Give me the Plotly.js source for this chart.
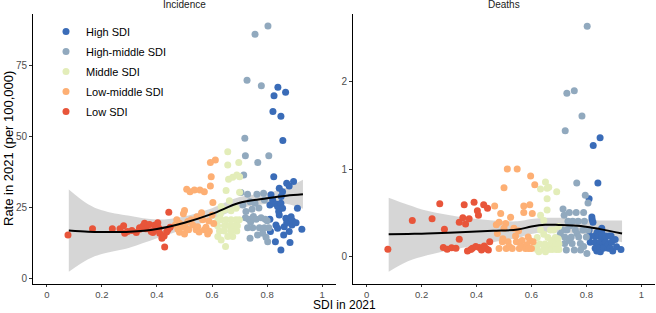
<!DOCTYPE html>
<html>
<head>
<meta charset="utf-8">
<script src="https://cdn.plot.ly/plotly-3.0.1.min.js"></script>
<style>html,body{margin:0;padding:0;background:#fff;}#chart{width:656px;height:313px;}</style>
</head>
<body>
<div id="chart"></div>
<script>
// ---- Data ----
const groupNames = ["High SDI", "High-middle SDI", "Middle SDI", "Low-middle SDI", "Low SDI"];
const groupColors = ["#3A6CB8", "#91A9BE", "#E3EDB9", "#FDAF74", "#E8553A"];

const sdiLow = [0.077,0.166,0.238,0.266,0.279,0.283,0.293,0.309,0.325,0.337,0.337,0.350,0.355,0.360,0.367,0.373,0.379,0.385,0.391,0.397,0.403,0.407,0.410,0.418,0.426,0.428,0.435,0.440,0.443,0.448];
const incLow = [15.5,17.7,17.7,17.7,18.7,16.1,16.7,17.0,16.3,17.5,18.0,18.7,19.6,17.7,19.0,19.2,16.7,16.3,18.9,17.3,19.8,17.8,16.1,14.3,15.1,11.2,16.5,17.3,23.5,18.2];
const dthLow = [0.08,0.41,0.43,0.60,0.10,0.31,0.08,0.095,0.09,0.195,0.39,0.44,0.59,0.37,0.06,0.43,0.077,0.09,0.62,0.11,0.52,0.47,0.10,0.07,0.59,0.115,0.088,0.55,0.069,0.165];

const sdiLowMid = [0.466,0.472,0.476,0.482,0.482,0.488,0.494,0.496,0.500,0.500,0.506,0.508,0.512,0.515,0.520,0.524,0.530,0.536,0.542,0.545,0.548,0.553,0.556,0.562,0.566,0.572,0.572,0.578,0.584,0.588,0.590,0.594,0.594,0.597,0.600,0.603,0.606,0.612];
const incLowMid = [19.0,20.8,17.5,19.6,16.4,18.2,19.0,22.9,24.1,15.8,17.8,31.6,20.2,17.3,30.7,20.8,19.0,31.3,17.3,21.9,18.4,16.5,31.3,23.3,20.8,30.7,17.3,18.2,15.8,20.4,16.8,32.7,41.0,36.0,22.5,26.9,19.5,41.9];
const dthLowMid = [0.575,0.36,0.26,0.088,0.39,0.49,0.165,0.2,0.32,0.785,0.375,0.088,1.0,0.165,0.11,0.445,0.088,0.32,0.23,0.165,1.0,0.29,0.088,0.12,0.18,0.575,0.50,0.088,0.13,0.22,0.088,0.18,0.59,0.92,0.088,0.49,0.165,0.82];

const sdiMid = [0.620,0.621,0.621,0.627,0.630,0.633,0.633,0.633,0.645,0.645,0.645,0.649,0.651,0.651,0.657,0.657,0.657,0.660,0.663,0.663,0.669,0.669,0.669,0.675,0.675,0.681,0.687,0.687,0.690,0.690,0.692,0.697,0.699,0.700,0.700];
const incMid = [18.7,20.8,14.9,16.9,22.8,25.5,20.8,13.7,24.3,18.7,16.9,11.4,31.1,20.8,44.8,40.1,14.9,35.1,27.5,18.7,24.0,20.8,16.9,35.8,14.9,18.7,24.9,20.8,36.6,16.9,18.7,41.0,20.8,36.0,30.5];
const dthMid = [0.12,0.215,0.075,0.05,0.14,0.47,0.30,0.77,0.41,0.075,0.25,0.14,0.85,0.05,0.78,0.66,0.53,0.215,0.075,0.79,0.30,0.11,0.14,0.18,0.075,0.30,0.11,0.215,0.14,0.075,0.74,0.2,0.34,0.14,0.075];

const sdiHighMid = [0.705,0.712,0.715,0.719,0.721,0.721,0.723,0.727,0.729,0.729,0.733,0.738,0.738,0.740,0.745,0.748,0.750,0.756,0.756,0.760,0.763,0.765,0.766,0.770,0.772,0.778,0.779,0.784,0.787,0.790,0.790,0.793,0.796,0.800,0.802,0.803,0.806,0.806];
const incHighMid = [30.4,26.0,36.6,49.5,43.4,21.5,23.7,70.0,29.8,18.0,21.0,27.2,14.3,20.0,24.5,18.0,22.0,86.2,26.6,21.0,29.8,15.5,41.0,25.0,18.0,21.5,68.0,16.1,30.2,27.8,18.0,21.0,14.7,20.5,13.1,89.1,43.4,18.0];
const dthHighMid = [0.25,0.30,0.54,0.47,0.22,0.146,1.44,0.07,1.87,0.30,0.40,0.5,0.18,0.35,0.22,0.146,0.40,0.07,1.90,0.30,0.50,0.84,0.26,0.40,0.22,0.146,0.07,1.61,0.30,0.11,0.50,0.40,0.70,0.22,0.03,2.64,0.61,0.30];

const sdiHigh = [0.810,0.810,0.812,0.814,0.820,0.821,0.824,0.825,0.830,0.832,0.832,0.838,0.838,0.839,0.842,0.844,0.844,0.850,0.850,0.850,0.851,0.856,0.856,0.857,0.860,0.862,0.867,0.868,0.871,0.871,0.880,0.880,0.883,0.887,0.890,0.892,0.896,0.905,0.910,0.926];
const incHigh = [26.0,21.0,16.7,29.6,27.8,59.0,36.0,64.5,13.1,26.4,19.0,25.5,17.8,67.5,23.7,31.9,22.5,57.3,26.6,10.2,29.0,30.7,24.9,48.7,15.5,18.4,65.7,21.4,33.7,19.8,32.7,16.7,12.8,21.9,19.0,20.5,34.3,19.8,24.9,17.5];
const dthHigh = [0.66,0.30,0.23,0.16,0.45,0.42,0.39,1.27,0.23,0.09,0.16,0.06,0.09,0.27,0.84,0.23,0.12,0.16,1.36,0.09,0.05,0.32,0.28,0.23,0.16,0.09,0.2,0.16,0.23,0.16,0.09,0.13,0.23,0.09,0.23,0.16,0.06,0.19,0.107,0.077];

// Smoothed fit and its confidence band
const fitIncX  = [0.08,0.15,0.2,0.3,0.4,0.5,0.6,0.7,0.8,0.87,0.93];
const fitInc   = [17.0,16.6,16.5,16.6,17.6,19.8,22.9,26.8,28.4,29.3,29.8];
const fitIncLo = [2.5,6.9,8.8,11.0,14.3,17.6,20.9,24.8,26.5,26.5,24.7];
const fitIncHi = [31.5,26.3,24.2,22.2,20.9,22.0,24.9,28.8,30.3,32.1,34.9];

const fitDthX  = [0.08,0.15,0.22,0.34,0.46,0.55,0.6,0.65,0.7,0.78,0.85,0.93];
const fitDth   = [0.25,0.255,0.26,0.275,0.29,0.305,0.34,0.36,0.358,0.345,0.31,0.26];
const fitDthLo = [-0.18,-0.06,0.01,0.09,0.16,0.21,0.255,0.275,0.27,0.26,0.22,0.16];
const fitDthHi = [0.67,0.59,0.52,0.45,0.41,0.40,0.425,0.44,0.44,0.43,0.41,0.41];

const xTickVals = [0,0.2,0.4,0.6,0.8,1];
const xTickText = ["0","0.2","0.4","0.6","0.8","1"];
const incTickVals = [0,25,50,75];
const dthTickVals = [0,1,2];

// ---- Build traces ----
const groups = [
  {sdi: sdiHigh, inc: incHigh, dth: dthHigh},
  {sdi: sdiHighMid, inc: incHighMid, dth: dthHighMid},
  {sdi: sdiMid, inc: incMid, dth: dthMid},
  {sdi: sdiLowMid, inc: incLowMid, dth: dthLowMid},
  {sdi: sdiLow, inc: incLow, dth: dthLow}
];

const ribbonColor = "rgba(153,153,153,0.4)";
const traces = [];
function ribbon(xs, lo, hi, xa, ya) {
  traces.push({x: xs, y: lo, xaxis: xa, yaxis: ya, type: "scatter", mode: "lines",
    line: {width: 0, shape: "spline", color: "rgba(0,0,0,0)"}, showlegend: false, hoverinfo: "skip"});
  traces.push({x: xs, y: hi, xaxis: xa, yaxis: ya, type: "scatter", mode: "lines", fill: "tonexty",
    fillcolor: ribbonColor, line: {width: 0, shape: "spline", color: "rgba(0,0,0,0)"}, showlegend: false, hoverinfo: "skip"});
}
ribbon(fitIncX, fitIncLo, fitIncHi, "x", "y");
ribbon(fitDthX, fitDthLo, fitDthHi, "x2", "y2");

groups.forEach((g, i) => {
  traces.push({x: g.sdi, y: g.inc, xaxis: "x", yaxis: "y", type: "scatter", mode: "markers",
    name: groupNames[i], legendgroup: groupNames[i], showlegend: true,
    marker: {color: groupColors[i], size: 7, line: {width: 0}}});
  traces.push({x: g.sdi, y: g.dth, xaxis: "x2", yaxis: "y2", type: "scatter", mode: "markers",
    name: groupNames[i], legendgroup: groupNames[i], showlegend: false,
    marker: {color: groupColors[i], size: 7, line: {width: 0}}});
});

traces.push({x: fitIncX, y: fitInc, xaxis: "x", yaxis: "y", type: "scatter", mode: "lines",
  line: {color: "#000", width: 2, shape: "spline"}, showlegend: false});
traces.push({x: fitDthX, y: fitDth, xaxis: "x2", yaxis: "y2", type: "scatter", mode: "lines",
  line: {color: "#000", width: 2, shape: "spline"}, showlegend: false});

// ---- Layout ----
const W = 656, H = 313;
const font = "Liberation Sans, Arial, Helvetica, sans-serif";
function xAxis(d0, d1, anchor) {
  return {domain: [d0 / W, d1 / W], anchor: anchor, range: [-0.05, 1.05],
    tickvals: xTickVals, ticktext: xTickText, ticks: "outside", ticklen: 2, tickwidth: 1, tickcolor: "#333",
    showline: true, linecolor: "#000", linewidth: 1, showgrid: false, zeroline: false,
    tickfont: {size: 9.5, color: "#4D4D4D", family: font}};
}
function yAxis(range, vals, anchor) {
  return {domain: [1 - 284 / H, 1 - 14 / H], anchor: anchor, range: range,
    tickvals: vals, ticks: "outside", ticklen: 3, tickwidth: 1, tickcolor: "#333",
    showline: true, linecolor: "#000", linewidth: 1, showgrid: false, zeroline: false,
    tickfont: {size: 10, color: "#4D4D4D", family: font}};
}

const layout = {
  width: W, height: H, margin: {l: 0, r: 0, t: 0, b: 0},
  paper_bgcolor: "#fff", plot_bgcolor: "#fff",
  font: {family: font, color: "#000"},
  showlegend: true,
  legend: {x: 46 / W, y: 1 - 17 / H, xanchor: "left", yanchor: "top", bgcolor: "rgba(0,0,0,0)",
    font: {size: 11, color: "#000", family: font}, traceorder: "grouped", tracegroupgap: 1, itemsizing: "trace"},
  xaxis: xAxis(33, 336, "y"),
  yaxis: yAxis([-1.8, 93.3], incTickVals, "x"),
  xaxis2: xAxis(353, 655, "y2"),
  yaxis2: yAxis([-0.32, 2.78], dthTickVals, "x2"),
  annotations: [
    {text: "Incidence", xref: "paper", yref: "paper", x: 184.5 / W, y: 1 - 5 / H, xanchor: "center", yanchor: "middle",
      showarrow: false, font: {size: 10, color: "#1A1A1A", family: font}},
    {text: "Deaths", xref: "paper", yref: "paper", x: 504 / W, y: 1 - 5 / H, xanchor: "center", yanchor: "middle",
      showarrow: false, font: {size: 10, color: "#1A1A1A", family: font}},
    {text: "SDI in 2021", xref: "paper", yref: "paper", x: 344 / W, y: 0, xanchor: "center", yanchor: "bottom",
      showarrow: false, borderpad: 0, font: {size: 12, color: "#000", family: font}},
    {text: "Rate in 2021 (per 100,000)", xref: "paper", yref: "paper", x: 8 / W, y: 1 - 149 / H, xanchor: "center", yanchor: "middle",
      textangle: -90, showarrow: false, font: {size: 13, color: "#000", family: font}}
  ]
};

Plotly.newPlot("chart", traces, layout, {displayModeBar: false, staticPlot: true});
</script>
</body>
</html>
